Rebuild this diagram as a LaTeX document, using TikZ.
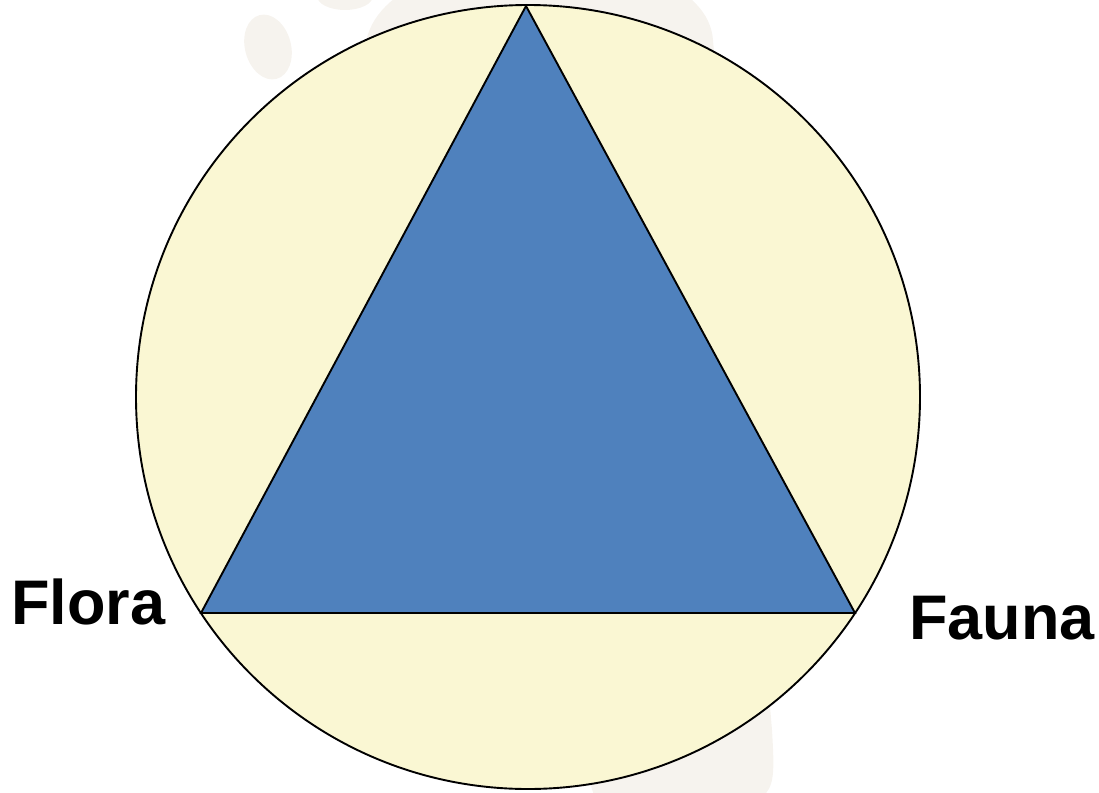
\documentclass[tikz,border=0pt]{standalone}
\usepackage{fontspec}
\setmainfont{Liberation Sans}
\usepackage{xcolor}
\usetikzlibrary{positioning}
\definecolor{paleyellow}{HTML}{FAF7D3}
\definecolor{officeblue}{HTML}{4F81BD}
\definecolor{wmark}{HTML}{F6F3EE}
\tikzset{
  disc/.style={draw=black, line width=1.9pt, fill=paleyellow},
  wedge/.style={draw=black, line width=1.9pt, fill=officeblue, line join=miter},
  faint/.style={fill=wmark, draw=none},
  lbl/.style={font=\fontsize{63}{63}\selectfont\bfseries, inner sep=0pt, anchor=base west},
}

\begin{document}
\begin{tikzpicture}[x=1pt, y=-1pt]
  \useasboundingbox (0,0) rectangle (1099,792);
  \clip (0,0) rectangle (1099,792);
  % faint footprint behind the picture
  \fill[faint, rotate around={15:(268,47)}] (268,47) ellipse (23 and 33);
  \fill[faint] (345,-4) ellipse (28 and 14);
  \fill[faint] (365,50) .. controls (372,-70) and (705,-70) .. (713,40)
    -- (772,730) .. controls (776,800) .. (700,815) -- (600,815) -- cycle;
  % circle and triangle
  \coordinate (ctr) at (528,397);
  \coordinate (apex) at (526,6);
  \coordinate (lft) at (201,613);
  \coordinate (rgt) at (855,613);
  \draw[disc] (ctr) circle (392);
  \draw[wedge] (apex) -- (lft) -- (rgt) -- cycle;
  % labels
  \node[lbl] (flora) at (11,624) {Flora};
  \node[lbl] (fauna) at (909,639) {Fauna};
\end{tikzpicture}
\end{document}
